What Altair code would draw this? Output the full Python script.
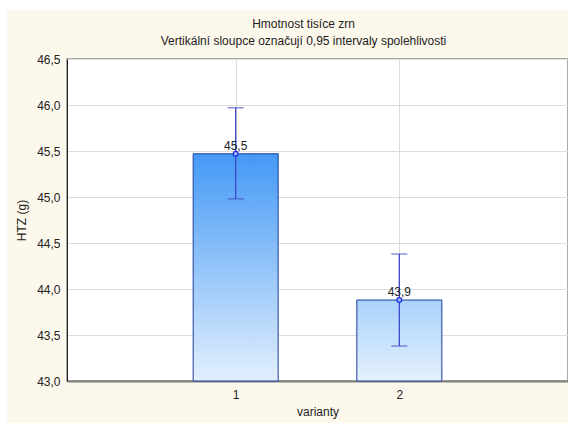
import altair as alt
import pandas as pd

variants = [1, 2]
means = [45.47, 43.88]
ci_low = [44.98, 43.38]
ci_high = [45.97, 44.38]
title_lines = ["Hmotnost tisíce zrn",
               "Vertikální sloupce označují 0,95 intervaly spolehlivosti"]

df = pd.DataFrame({"varianty": variants, "mean": means, "low": ci_low, "high": ci_high})

FONT = "Liberation Sans"
W, H = 501, 322

xs = alt.Scale(domain=[0, 3], nice=False, zero=False)
ys = alt.Scale(domain=[43, 46.5], nice=False, zero=False)

X = alt.X("varianty:Q", scale=xs, title="varianty",
          axis=alt.Axis(values=[1, 2], format="d", ticks=False, labelPadding=8,
                        titlePadding=6, domainColor="#808080", domainWidth=2,
                        gridColor="#dcdcdc", labelFont=FONT, titleFont=FONT,
                        labelFontSize=12, titleFontSize=12, labelColor="#222",
                        titleColor="#222", titleFontWeight="normal"))
Y = alt.Y("mean:Q", scale=ys, title="HTZ (g)",
          axis=alt.Axis(values=[43, 43.5, 44, 44.5, 45, 45.5, 46, 46.5],
                        labelExpr="replace(format(datum.value, '.1f'), '.', ',')",
                        ticks=False, labelPadding=7, domainColor="#222",
                        gridColor="#dcdcdc", labelFont=FONT, titleFont=FONT,
                        labelFontSize=12, titleFontSize=12, labelColor="#222",
                        titleColor="#222", titleFontWeight="normal",
                        titlePadding=8))

base = alt.Chart(df)

grad1 = alt.Gradient(gradient="linear", x1=0, y1=0, x2=0, y2=1,
                     stops=[alt.GradientStop(color="#4499f5", offset=0),
                            alt.GradientStop(color="#e2effd", offset=1)])
grad2 = alt.Gradient(gradient="linear", x1=0, y1=0, x2=0, y2=1,
                     stops=[alt.GradientStop(color="#a9d2fb", offset=0),
                            alt.GradientStop(color="#e5f1fd", offset=1)])

bar1 = base.transform_filter("datum.varianty == 1").mark_bar(
    size=85, color=grad1, stroke="#1f3f9f", strokeWidth=1).encode(
    x=X, y=Y, y2=alt.datum(43))
bar2 = base.transform_filter("datum.varianty == 2").mark_bar(
    size=85, color=grad2, stroke="#1f3f9f", strokeWidth=1).encode(
    x=X, y=Y, y2=alt.datum(43))

EC = "#3f48c8"
err = base.mark_rule(color=EC, strokeWidth=1.3).encode(
    x=X, y=alt.Y("low:Q", scale=ys), y2="high:Q")
cap_lo = base.mark_tick(color=EC, orient="horizontal", size=16, thickness=1.3).encode(
    x=X, y=alt.Y("low:Q", scale=ys))
cap_hi = base.mark_tick(color=EC, orient="horizontal", size=16, thickness=1.3).encode(
    x=X, y=alt.Y("high:Q", scale=ys))
pts = base.mark_point(shape="circle", size=22, color="#1a2ee0", strokeWidth=1.3,
                      fill="#9fb8ff", filled=False, opacity=1).encode(x=X, y=Y)
labels = base.transform_calculate(
    lab="replace(format(datum.mean, '.1f'), '.', ',')").mark_text(
    font=FONT, fontSize=12, color="#222", baseline="bottom", dy=-1).encode(
    x=X, y=Y, text="lab:N")

one = pd.DataFrame({"a": [0]})
# white strips outside the cream frame
white_top = alt.Chart(one).mark_rect(color="white").encode(
    x=alt.value(-67), x2=alt.value(W + 1), y=alt.value(-59), y2=alt.value(-49))
white_left = alt.Chart(one).mark_rect(color="white").encode(
    x=alt.value(-67), x2=alt.value(-60), y=alt.value(-59), y2=alt.value(H + 42))

title1 = alt.Chart(pd.DataFrame({"t": [title_lines[0]]})).mark_text(
    font=FONT, fontSize=12, color="#222", baseline="middle", align="center").encode(
    x=alt.value(W / 2 - 14), y=alt.value(-35), text="t:N")
title2 = alt.Chart(pd.DataFrame({"t": [title_lines[1]]})).mark_text(
    font=FONT, fontSize=12, color="#222", baseline="middle", align="center").encode(
    x=alt.value(W / 2 - 14), y=alt.value(-18), text="t:N")

chart = alt.layer(white_top, white_left, title1, title2, bar1, bar2, err,
                  cap_lo, cap_hi, pts, labels).properties(
    width=W, height=H,
    autosize=alt.AutoSizeParams(type="none"),
    padding={"left": 67, "top": 59, "right": 0, "bottom": 42},
    background="#fdf8ec",
).configure_view(fill="white", stroke="#909090", strokeWidth=1.5)

chart.save("out.html", embed_options={"renderer": "svg", "actions": False})
